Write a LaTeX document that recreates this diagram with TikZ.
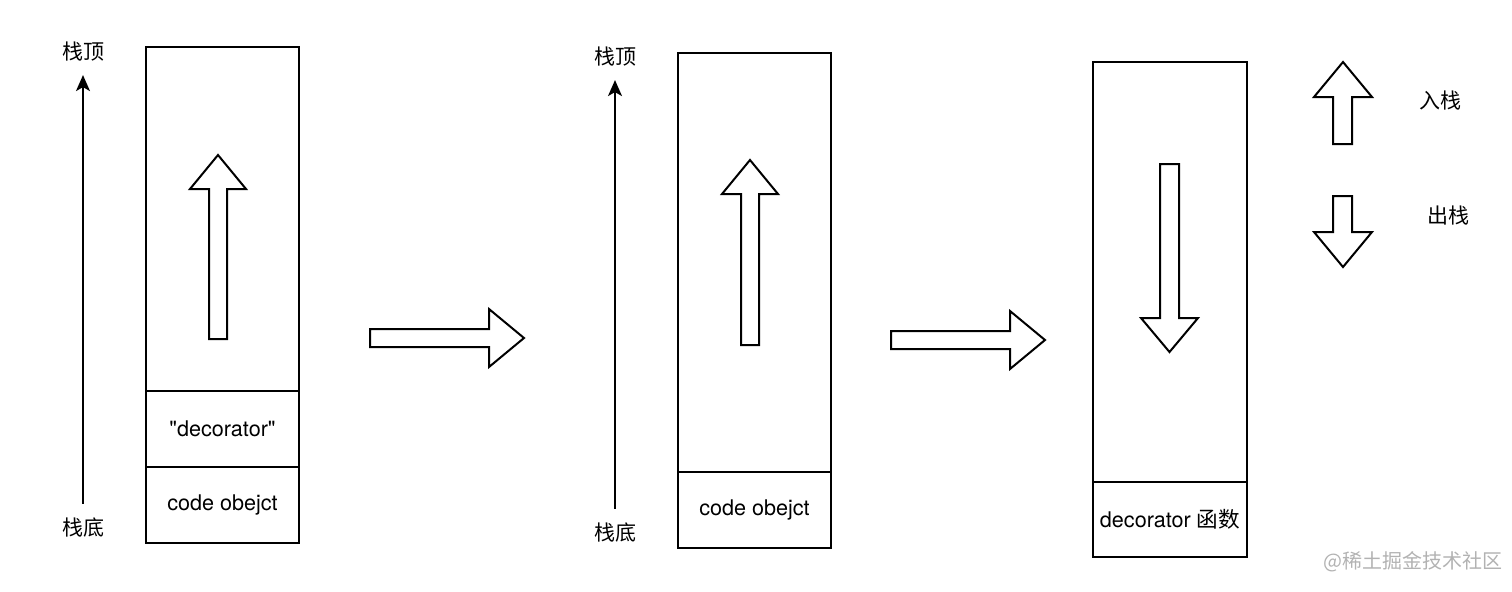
\documentclass[tikz,border=0pt]{standalone}
\usepackage{fontspec}
\setmainfont{TeX Gyre Heros}[Ligatures=TeXOff]
\newfontfamily\cjk{Noto Sans CJK SC}
\usetikzlibrary{arrows.meta}
\tikzset{
  cell/.style={draw, line width=1pt, rectangle, inner sep=0pt, outer sep=0pt, minimum width=76.5pt, font=\fontsize{10.8pt}{13pt}\selectfont},
  lbl/.style={inner sep=0pt, font=\fontsize{10.5pt}{12pt}\selectfont\cjk},
  axis/.style={line width=0.9pt, -{Stealth[length=8pt,width=7pt,inset=2pt]}, shorten <=7pt, shorten >=6.5pt},
  blockarrow/.style={draw, line width=1pt, fill=white, line join=miter}
}
\begin{document}
\begin{tikzpicture}[x=0.5pt,y=-0.5pt]
\useasboundingbox (0,0) rectangle (1512,591);

% ---------- panel 1 ----------
\node[lbl] (top1) at (83,52) {栈顶};
\node[lbl] (bot1) at (83,528) {栈底};
\draw[axis] (bot1) -- (top1);
\node[cell, minimum height=172pt] (s1a) at (222.5,219) {};
\node[cell, minimum height=38pt] (s1b) at (222.5,429) {"decorator"};
\node[cell, minimum height=38pt] (s1c) at (222.5,505) {code obejct};
\draw[blockarrow] (209,339) -- (209,189) -- (190,189) -- (218,155) -- (246,189) -- (227,189) -- (227,339) -- cycle;

% arrow between panels 1 and 2
\draw[blockarrow] (370,329) -- (489,329) -- (489,309) -- (524,338) -- (489,367) -- (489,347) -- (370,347) -- cycle;

% ---------- panel 2 ----------
\node[lbl] (top2) at (615,57) {栈顶};
\node[lbl] (bot2) at (615,533) {栈底};
\draw[axis] (bot2) -- (top2);
\node[cell, minimum height=209.5pt] (s2a) at (754.5,262.5) {};
\node[cell, minimum height=38pt] (s2b) at (754.5,510) {code obejct};
\draw[blockarrow] (741,345) -- (741,194) -- (722,194) -- (750,160) -- (778,194) -- (759,194) -- (759,345) -- cycle;

% arrow between panels 2 and 3
\draw[blockarrow] (891,331) -- (1010,331) -- (1010,311) -- (1045,340) -- (1010,369) -- (1010,349) -- (891,349) -- cycle;

% ---------- panel 3 ----------
\node[cell, minimum width=77pt, minimum height=210pt] (s3a) at (1170,272) {};
\node[cell, minimum width=77pt, minimum height=37.5pt] (s3b) at (1170,519.5) {decorator {\cjk 函数}};
\draw[blockarrow] (1160,164) -- (1179,164) -- (1179,318) -- (1198,318) -- (1169.5,352) -- (1141,318) -- (1160,318) -- cycle;

% ---------- legend ----------
\draw[blockarrow] (1333,144) -- (1333,97) -- (1314,97) -- (1343,62) -- (1372,97) -- (1352,97) -- (1352,144) -- cycle;
\node[lbl] (push) at (1440,101) {入栈};
\draw[blockarrow] (1333,196) -- (1352,196) -- (1352,232) -- (1372,232) -- (1343,267) -- (1314,232) -- (1333,232) -- cycle;
\node[lbl] (pop) at (1448,216) {出栈};

% watermark
\node[inner sep=0pt, text=black!30, font=\fontsize{10pt}{12pt}\selectfont\cjk] (wm) at (1413,562) {@稀土掘金技术社区};
\end{tikzpicture}
\end{document}
